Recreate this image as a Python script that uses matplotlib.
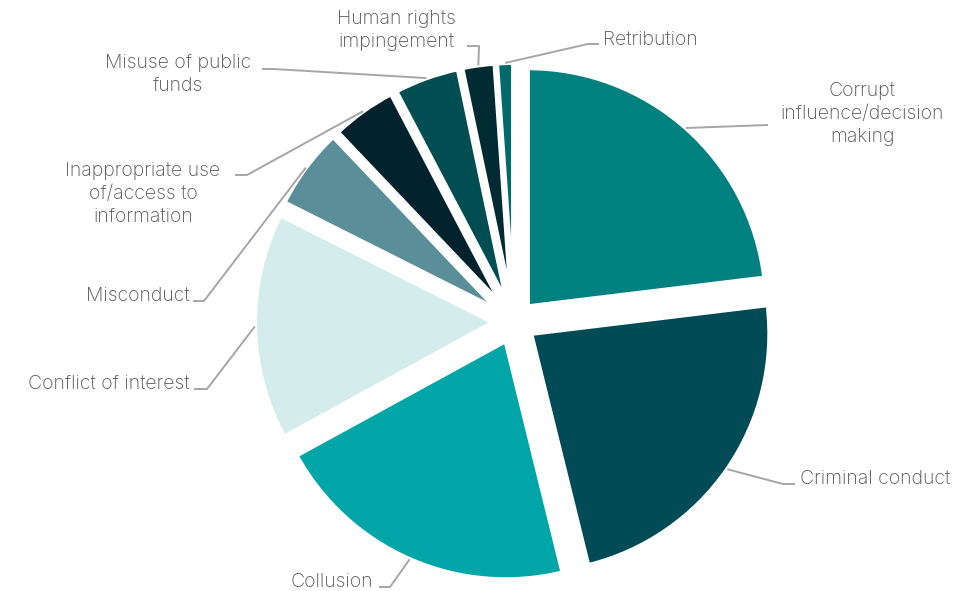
import numpy as np
import matplotlib.pyplot as plt

categories = [
    "Corrupt\ninfluence/decision\nmaking",
    "Criminal conduct",
    "Collusion",
    "Conflict of interest",
    "Misconduct",
    "Inappropriate use\nof/access to\ninformation",
    "Misuse of public\nfunds",
    "Human rights\nimpingement",
    "Retribution",
]
counts = [21, 21, 19, 14, 5, 4, 4, 2, 1]
colours = ["#00807f", "#004b55", "#00a5a8", "#d5ecec", "#5a8e99",
           "#00222d", "#004e52", "#002b33", "#006a6b"]

W, H = 971, 591
CENTRE = (514, H - 322)
RADIUS = 238.5
OFFSET = 20.7  # how far each wedge is pulled out, in pixels
TEXT_COL = "#555555"
LINE_COL = "#a6a6a6"

# text anchor (x, baseline of last line from top), ha, leader elbow points starting at the text end
layout = [
    (862, 142, "center", [(768, 125)]),
    (800, 484, "left", [(795, 484), (783, 484)]),
    (373, 587, "right", [(379, 587), (390, 587)]),
    (190, 389, "right", [(194, 389), (207, 389)]),
    (190, 301, "right", [(193, 301), (204, 301)]),
    (143, 222, "center", [(235, 175), (247, 175)]),
    (178, 91, "center", [(262, 69), (274, 69)]),
    (396, 47, "center", [(467, 46), (479, 46)]),
    (603, 45, "left", [(599, 44), (588, 44)]),
]

plt.rcParams["font.family"] = ["Inter", "DejaVu Sans"]

fig = plt.figure(figsize=(W / 100, H / 100), dpi=100)
ax = fig.add_axes([0, 0, 1, 1])

wedges, _ = ax.pie(counts, colors=colours, startangle=90, counterclock=False,
                   center=CENTRE, radius=RADIUS, explode=[OFFSET] * len(counts),
                   wedgeprops=dict(edgecolor="white", linewidth=3.2), frame=True)
ax.set_xlim(0, W)
ax.set_ylim(0, H)
ax.set_aspect("equal")
ax.axis("off")

for w, lab, (tx, ty, ha, elbow) in zip(wedges, categories, layout):
    mid = np.deg2rad(0.5 * (w.theta1 + w.theta2))
    cx, cy = w.center
    px = cx + w.r * np.cos(mid)
    py = cy + w.r * np.sin(mid)
    xs = [p[0] for p in elbow] + [px]
    ys = [H - p[1] for p in elbow] + [py]
    ax.plot(xs, ys, color=LINE_COL, lw=1.4, solid_capstyle="butt")
    ax.text(tx, H - ty, lab, ha=ha, va="baseline", multialignment="center",
            fontsize=14, fontweight="light", color=TEXT_COL, linespacing=1.35)

fig.savefig("out.png", dpi=100)
